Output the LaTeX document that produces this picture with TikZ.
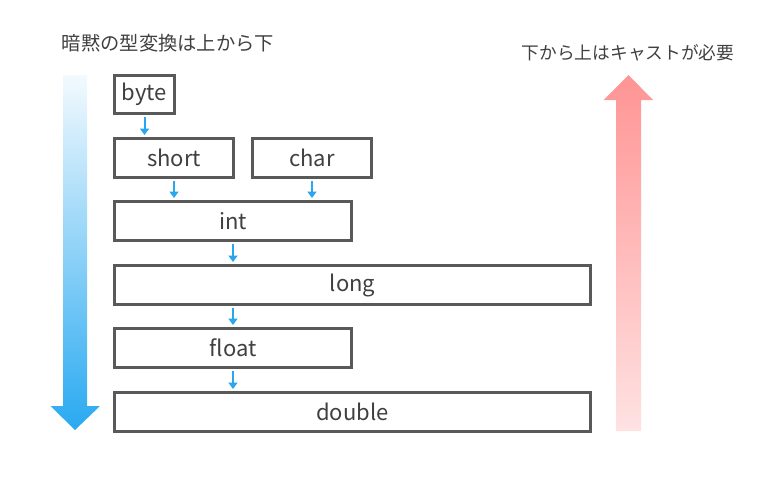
\documentclass[tikz,border=0pt]{standalone}
\usepackage{fontspec}
\setmainfont{Noto Sans CJK JP}
\usetikzlibrary{arrows.meta}
\definecolor{txt}{HTML}{404040}
\definecolor{bord}{HTML}{595959}
\definecolor{flow}{HTML}{29A6EE}
\definecolor{bluetop}{HTML}{F3FAFE}
\definecolor{bluebot}{HTML}{29A9F1}
\definecolor{redtop}{HTML}{FF9494}
\definecolor{redbot}{HTML}{FFE2E2}
\tikzset{
  typebox/.style={draw=bord, line width=3pt, fill=white, inner sep=0pt,
    text=txt, font=\fontsize{22}{24}\selectfont, minimum height=39pt},
  conn/.style={draw=flow, line width=2pt, shorten <=2pt, shorten >=2pt,
    -{Triangle[length=6.5pt,width=9pt]}},
  title/.style={text=txt, inner sep=0pt}
}
\begin{document}
\begin{tikzpicture}[x=1pt,y=-1pt]
\useasboundingbox (0,0) rectangle (768,485);
% big arrows
\shade[top color=bluetop, bottom color=bluebot]
  (63,75) -- (87,75) -- (87,406) -- (100,406) -- (75,430) -- (50.5,406) -- (63,406) -- cycle;
\shade[top color=redtop, bottom color=redbot]
  (616,431) -- (641,431) -- (641,100) -- (653,100) -- (628.5,75) -- (603.5,100) -- (616,100) -- cycle;
% titles
\node[title, font=\fontsize{19.3}{21}\selectfont] (ttl) at (168,43.5) {暗黙の型変換は上から下};
\node[title, font=\fontsize{17.7}{20}\selectfont] (ttr) at (628,52.5) {下から上はキャストが必要};
% boxes
\node[typebox, minimum width=60pt, minimum height=38pt] (byte) at (144.5,94.5) {byte};
\node[typebox, minimum width=119pt] (short) at (174,158) {short};
\node[typebox, minimum width=119pt] (char) at (312,158) {char};
\node[typebox, minimum width=237pt] (int) at (233,221) {int};
\node[typebox, minimum width=476pt] (long) at (352.5,285) {long};
\node[typebox, minimum width=237pt] (float) at (233,348) {float};
\node[typebox, minimum width=476pt] (double) at (352.5,412) {double};
% connectors
\draw[conn] (byte.south) -- (byte.south |- short.north);
\draw[conn] (short.south) -- (short.south |- int.north);
\draw[conn] (char.south) -- (char.south |- int.north);
\draw[conn] (int.south) -- (int.south |- long.north);
\draw[conn] (long.south -| int.south) -- (int.south |- float.north);
\draw[conn] (float.south) -- (float.south |- double.north);
\end{tikzpicture}
\end{document}
